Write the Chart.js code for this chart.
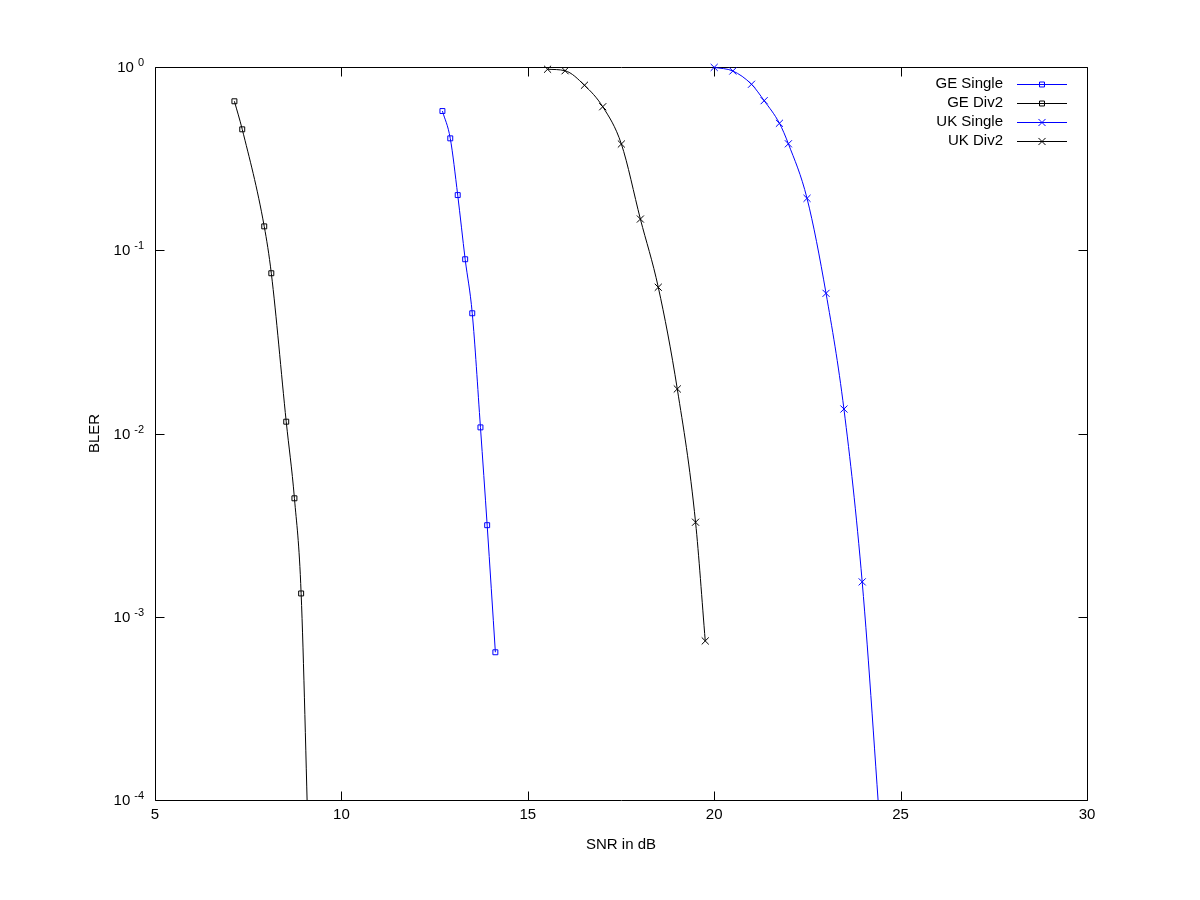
<!DOCTYPE html>
<html>
<head>
<meta charset="utf-8">
<title>BLER vs SNR</title>
<script src="https://cdn.jsdelivr.net/npm/chart.js@4.4.1/dist/chart.umd.min.js"></script>
<style>
    body { margin: 0; background: #fff; }
    #wrap { width: 1200px; height: 900px; }
</style>
</head>
<body>
<div id="wrap"><canvas id="blerChart" width="1200" height="900"></canvas></div>
<script>
// Values (x = SNR in dB, y = BLER)
const geSingleSnr = [12.71, 12.92, 13.12, 13.32, 13.51, 13.73, 13.91, 14.13];
const geSingleBler = [0.575, 0.408, 0.200, 0.0893, 0.0453, 0.0108, 0.00316, 0.00064];

const geDiv2Snr = [7.13, 7.34, 7.93, 8.12, 8.52, 8.74, 8.92, 9.12];
const geDiv2Bler = [0.650, 0.457, 0.135, 0.0749, 0.0116, 0.00443, 0.00134, 0.00005];

const ukSingleSnr = [20.0, 20.5, 21.0, 21.34, 21.75, 21.99, 22.49, 23.0, 23.48, 23.97, 24.5];
const ukSingleBler = [0.995, 0.951, 0.805, 0.655, 0.493, 0.381, 0.192, 0.0582, 0.0136, 0.00155, 0.00005];

const ukDiv2Snr = [15.53, 16.0, 16.52, 17.01, 17.51, 18.02, 18.5, 19.01, 19.5, 19.76];
const ukDiv2Bler = [0.972, 0.954, 0.795, 0.607, 0.380, 0.148, 0.0628, 0.0175, 0.00328, 0.000738];

const seriesNames = ['GE Single', 'GE Div2', 'UK Single', 'UK Div2'];
const xTicks = [5, 10, 15, 20, 25, 30];
const yTicks = [1e-4, 1e-3, 1e-2, 1e-1, 1];

const FONT = 'Liberation Sans, Arial, sans-serif';

function toPoints(xs, ys) {
    return xs.map((x, i) => ({ x: x, y: ys[i] }));
}

function makeSet(label, xs, ys, color, style, radius) {
    return {
        label: label,
        data: toPoints(xs, ys),
        borderColor: color,
        borderWidth: 1,
        pointStyle: style,
        pointRadius: radius,
        pointHoverRadius: radius,
        pointBorderColor: color,
        pointBackgroundColor: 'rgba(0,0,0,0)',
        pointBorderWidth: 1,
        cubicInterpolationMode: 'monotone',
        fill: false,
        clip: { left: 10, top: 10, right: 10, bottom: 0 }
    };
}

// Box around the plot with inward ticks on all four sides, plus the 10^n labels
const framePlugin = {
    id: 'frame',
    beforeDatasetsDraw(chart) {
        const { ctx, chartArea: a, scales } = chart;
        const L = Math.round(a.left) + 0.5, R = Math.round(a.right) + 0.5;
        const T = Math.round(a.top) + 0.5, B = Math.round(a.bottom) + 0.5;
        const len = 9;
        ctx.save();
        ctx.strokeStyle = '#000';
        ctx.lineWidth = 1;
        ctx.beginPath();
        ctx.rect(L, T, R - L, B - T);
        xTicks.forEach(v => {
            const px = Math.round(scales.x.getPixelForValue(v)) + 0.5;
            ctx.moveTo(px, B); ctx.lineTo(px, B - len);
            ctx.moveTo(px, T); ctx.lineTo(px, T + len);
        });
        yTicks.forEach(v => {
            const py = Math.round(scales.y.getPixelForValue(v)) + 0.5;
            ctx.moveTo(L, py); ctx.lineTo(L + len, py);
            ctx.moveTo(R, py); ctx.lineTo(R - len, py);
        });
        ctx.stroke();

        // log tick labels: "10" with a raised exponent
        ctx.fillStyle = '#000';
        ctx.textAlign = 'right';
        ctx.textBaseline = 'middle';
        yTicks.forEach(v => {
            const py = scales.y.getPixelForValue(v);
            const exp = String(Math.round(Math.log10(v)));
            ctx.font = '11px ' + FONT;
            ctx.fillText(exp, 144, py - 4);
            const expW = ctx.measureText(exp).width;
            ctx.font = '15px ' + FONT;
            ctx.fillText('10', 144 - expW - 4, py + 1);
        });
        ctx.restore();
    }
};

// gnuplot-style key: text first, then a line sample with the marker in the middle
const keyPlugin = {
    id: 'gpKey',
    afterDraw(chart) {
        const ctx = chart.ctx;
        const textRight = 1003, lineStart = 1017, lineEnd = 1067, top = 84, step = 19;
        ctx.save();
        ctx.font = '15px ' + FONT;
        ctx.textAlign = 'right';
        ctx.textBaseline = 'middle';
        chart.data.datasets.forEach((ds, i) => {
            const y = top + i * step;
            ctx.fillStyle = '#000';
            ctx.fillText(ds.label, textRight, y);
            ctx.strokeStyle = ds.borderColor;
            ctx.lineWidth = 1;
            ctx.beginPath();
            ctx.moveTo(lineStart, y + 0.5);
            ctx.lineTo(lineEnd, y + 0.5);
            ctx.stroke();
            ctx.fillStyle = 'rgba(0,0,0,0)';
            Chart.helpers.drawPoint(ctx, {
                pointStyle: ds.pointStyle,
                radius: ds.pointRadius,
                borderWidth: 1,
                rotation: 0
            }, (lineStart + lineEnd) / 2, y + 0.5);
        });
        ctx.restore();
    }
};

const tickFont = { family: FONT, size: 15 };

new Chart(document.getElementById('blerChart').getContext('2d'), {
    type: 'line',
    data: {
        datasets: [
            makeSet(seriesNames[0], geSingleSnr, geSingleBler, '#0000ff', 'rect', 3.5),
            makeSet(seriesNames[1], geDiv2Snr, geDiv2Bler, '#000000', 'rect', 3.5),
            makeSet(seriesNames[2], ukSingleSnr, ukSingleBler, '#0000ff', 'crossRot', 5),
            makeSet(seriesNames[3], ukDiv2Snr, ukDiv2Bler, '#000000', 'crossRot', 5)
        ]
    },
    options: {
        responsive: false,
        animation: false,
        layout: { padding: { left: 0, top: 67, right: 113, bottom: 0 } },
        plugins: {
            legend: { display: false },
            tooltip: { enabled: false }
        },
        scales: {
            x: {
                type: 'linear',
                min: 5,
                max: 30,
                afterBuildTicks: s => { s.ticks = xTicks.map(v => ({ value: v })); },
                afterFit: s => { s.height = 100; },
                ticks: { color: '#000', font: tickFont, padding: 6, autoSkip: false, maxRotation: 0 },
                grid: { display: false, drawTicks: false },
                border: { display: false },
                title: { display: true, text: 'SNR in dB', color: '#000', font: tickFont, padding: { top: 0, bottom: 46 } }
            },
            y: {
                type: 'logarithmic',
                min: 1e-4,
                max: 1,
                afterBuildTicks: s => { s.ticks = yTicks.map(v => ({ value: v })); },
                afterFit: s => { s.width = 155; },
                ticks: { display: false },
                grid: { display: false, drawTicks: false },
                border: { display: false },
                title: { display: true, text: 'BLER', color: '#000', font: tickFont, padding: { top: 86, bottom: 0 } }
            }
        }
    },
    plugins: [framePlugin, keyPlugin]
});
</script>
</body>
</html>
